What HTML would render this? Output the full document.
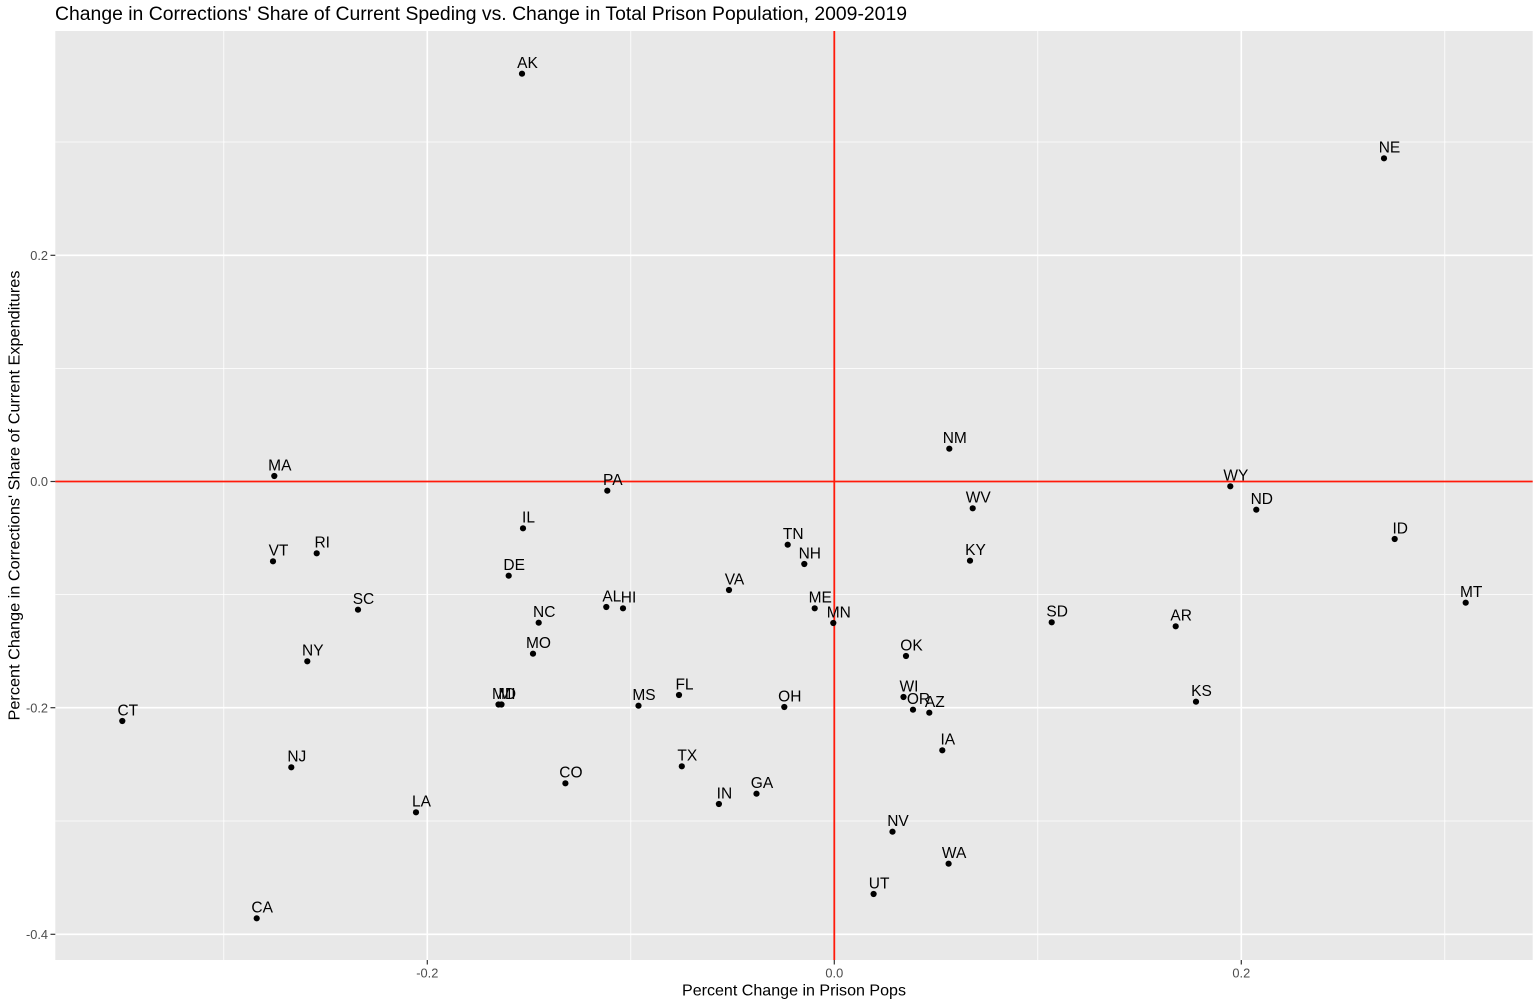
<!DOCTYPE html>
<html>
<head>
<meta charset="utf-8">
<style>
html,body{margin:0;padding:0;background:#ffffff;}
svg{display:block;}
text{font-family:"Liberation Sans",Arial,sans-serif;}
</style>
</head>
<body>
<svg width="1538" height="1003" viewBox="0 0 1538 1003" xmlns="http://www.w3.org/2000/svg">
<rect x="0" y="0" width="1538" height="1003" fill="#ffffff"/>
<!-- title -->
<text x="55" y="20" font-size="19" fill="#000" textLength="852" lengthAdjust="spacingAndGlyphs">Change in Corrections' Share of Current Speding vs. Change in Total Prison Population, 2009-2019</text>
<!-- panel -->
<rect x="55.3" y="31" width="1477.4" height="929" fill="#e8e8e8"/>
<!-- minor grid -->
<g stroke="#ffffff" stroke-width="0.8">
<line x1="223.8" y1="31" x2="223.8" y2="960"/>
<line x1="630.8" y1="31" x2="630.8" y2="960"/>
<line x1="1037.8" y1="31" x2="1037.8" y2="960"/>
<line x1="1444.8" y1="31" x2="1444.8" y2="960"/>
<line x1="55.3" y1="142" x2="1532.7" y2="142"/>
<line x1="55.3" y1="368.4" x2="1532.7" y2="368.4"/>
<line x1="55.3" y1="594.6" x2="1532.7" y2="594.6"/>
<line x1="55.3" y1="821" x2="1532.7" y2="821"/>
</g>
<!-- major grid -->
<g stroke="#ffffff" stroke-width="1.6">
<line x1="427.3" y1="31" x2="427.3" y2="960"/>
<line x1="834.3" y1="31" x2="834.3" y2="960"/>
<line x1="1241.3" y1="31" x2="1241.3" y2="960"/>
<line x1="55.3" y1="255.3" x2="1532.7" y2="255.3"/>
<line x1="55.3" y1="481.5" x2="1532.7" y2="481.5"/>
<line x1="55.3" y1="707.7" x2="1532.7" y2="707.7"/>
<line x1="55.3" y1="934.3" x2="1532.7" y2="934.3"/>
</g>
<!-- red reference lines -->
<g stroke="#ff1a0a" stroke-width="1.8">
<line x1="55.3" y1="481.5" x2="1532.7" y2="481.5"/>
<line x1="834.3" y1="31" x2="834.3" y2="960"/>
</g>
<!-- axis ticks -->
<g stroke="#333333" stroke-width="1.2">
<line x1="50.5" y1="255.3" x2="55.3" y2="255.3"/>
<line x1="50.5" y1="481.5" x2="55.3" y2="481.5"/>
<line x1="50.5" y1="707.7" x2="55.3" y2="707.7"/>
<line x1="50.5" y1="934.3" x2="55.3" y2="934.3"/>
<line x1="427.3" y1="960" x2="427.3" y2="964.5"/>
<line x1="834.3" y1="960" x2="834.3" y2="964.5"/>
<line x1="1241.3" y1="960" x2="1241.3" y2="964.5"/>
</g>
<!-- tick labels -->
<g font-size="12.8" fill="#4d4d4d">
<text x="48" y="259.9" text-anchor="end">0.2</text>
<text x="48" y="486.1" text-anchor="end">0.0</text>
<text x="48" y="712.3" text-anchor="end">-0.2</text>
<text x="48" y="938.9" text-anchor="end">-0.4</text>
<text x="427.3" y="977.7" text-anchor="middle">-0.2</text>
<text x="834.3" y="977.7" text-anchor="middle">0.0</text>
<text x="1241.3" y="977.7" text-anchor="middle">0.2</text>
</g>
<!-- axis titles -->
<text x="794" y="995.5" font-size="16" fill="#000" text-anchor="middle" textLength="224" lengthAdjust="spacingAndGlyphs">Percent Change in Prison Pops</text>
<text transform="translate(19.3,495.5) rotate(-90)" x="0" y="0" font-size="16" fill="#000" text-anchor="middle" textLength="450" lengthAdjust="spacingAndGlyphs">Percent Change in Corrections' Share of Current Expenditures</text>
<!-- points -->
<g fill="#000">
<circle cx="522" cy="73.7" r="3.1"/>
<circle cx="1384" cy="158.3" r="3.1"/>
<circle cx="949.3" cy="448.7" r="3.1"/>
<circle cx="274.3" cy="476" r="3.1"/>
<circle cx="607.3" cy="490.7" r="3.1"/>
<circle cx="1230.3" cy="486.3" r="3.1"/>
<circle cx="1256.3" cy="509.7" r="3.1"/>
<circle cx="972.7" cy="508.3" r="3.1"/>
<circle cx="523" cy="528.3" r="3.1"/>
<circle cx="1394.7" cy="539" r="3.1"/>
<circle cx="787.7" cy="544.7" r="3.1"/>
<circle cx="316.7" cy="553.3" r="3.1"/>
<circle cx="273" cy="561.3" r="3.1"/>
<circle cx="804.3" cy="564" r="3.1"/>
<circle cx="970" cy="560.7" r="3.1"/>
<circle cx="508.7" cy="575.7" r="3.1"/>
<circle cx="729" cy="590" r="3.1"/>
<circle cx="1465.7" cy="602.7" r="3.1"/>
<circle cx="606.3" cy="607" r="3.1"/>
<circle cx="623" cy="608.3" r="3.1"/>
<circle cx="814.7" cy="608.3" r="3.1"/>
<circle cx="358" cy="609.7" r="3.1"/>
<circle cx="833.3" cy="623" r="3.1"/>
<circle cx="1051.7" cy="622.3" r="3.1"/>
<circle cx="538.7" cy="622.7" r="3.1"/>
<circle cx="1175.7" cy="626.3" r="3.1"/>
<circle cx="533" cy="653.7" r="3.1"/>
<circle cx="906" cy="656" r="3.1"/>
<circle cx="307.3" cy="661.3" r="3.1"/>
<circle cx="1196" cy="701.7" r="3.1"/>
<circle cx="498.5" cy="704.5" r="3.1"/>
<circle cx="501.5" cy="704.5" r="3.1"/>
<circle cx="638.5" cy="705.7" r="3.1"/>
<circle cx="679" cy="695" r="3.1"/>
<circle cx="784.3" cy="707" r="3.1"/>
<circle cx="903.5" cy="697" r="3.1"/>
<circle cx="913" cy="709.7" r="3.1"/>
<circle cx="929.3" cy="712.7" r="3.1"/>
<circle cx="942.3" cy="750.3" r="3.1"/>
<circle cx="122.3" cy="721" r="3.1"/>
<circle cx="291.3" cy="767.3" r="3.1"/>
<circle cx="681.8" cy="766.3" r="3.1"/>
<circle cx="565.4" cy="783.3" r="3.1"/>
<circle cx="718.9" cy="804" r="3.1"/>
<circle cx="756.5" cy="793.7" r="3.1"/>
<circle cx="416" cy="812.3" r="3.1"/>
<circle cx="892.5" cy="831.7" r="3.1"/>
<circle cx="948.6" cy="863.7" r="3.1"/>
<circle cx="873.6" cy="894" r="3.1"/>
<circle cx="256.7" cy="918.3" r="3.1"/>
</g>
<!-- labels -->
<g font-size="15.5" fill="#000" text-anchor="middle">
<text x="527.5" y="68">AK</text>
<text x="1389.5" y="152.6">NE</text>
<text x="954.8" y="443">NM</text>
<text x="279.8" y="470.3">MA</text>
<text x="612.8" y="485">PA</text>
<text x="1235.8" y="480.6">WY</text>
<text x="1261.8" y="504">ND</text>
<text x="978.2" y="502.6">WV</text>
<text x="528.5" y="522.6">IL</text>
<text x="1400.2" y="533.3">ID</text>
<text x="793.2" y="539">TN</text>
<text x="322.2" y="547.6">RI</text>
<text x="278.5" y="555.6">VT</text>
<text x="809.8" y="558.3">NH</text>
<text x="975.5" y="555">KY</text>
<text x="514.2" y="570">DE</text>
<text x="734.5" y="584.3">VA</text>
<text x="1471.2" y="597">MT</text>
<text x="611.8" y="601.3">AL</text>
<text x="628.5" y="602.6">HI</text>
<text x="820.2" y="602.6">ME</text>
<text x="363.5" y="604">SC</text>
<text x="838.8" y="617.3">MN</text>
<text x="1057.2" y="616.6">SD</text>
<text x="544.2" y="617">NC</text>
<text x="1181.2" y="620.6">AR</text>
<text x="538.5" y="648">MO</text>
<text x="911.5" y="650.3">OK</text>
<text x="312.8" y="655.6">NY</text>
<text x="1201.5" y="696">KS</text>
<text x="504" y="698.8">MD</text>
<text x="507" y="698.8">MI</text>
<text x="644" y="700">MS</text>
<text x="684.5" y="689.3">FL</text>
<text x="789.8" y="701.3">OH</text>
<text x="909" y="691.3">WI</text>
<text x="918.5" y="704">OR</text>
<text x="934.8" y="707">AZ</text>
<text x="947.8" y="744.6">IA</text>
<text x="127.8" y="715.3">CT</text>
<text x="296.8" y="761.6">NJ</text>
<text x="687.3" y="760.6">TX</text>
<text x="570.9" y="777.6">CO</text>
<text x="724.4" y="798.3">IN</text>
<text x="762" y="788">GA</text>
<text x="421.5" y="806.6">LA</text>
<text x="898" y="826">NV</text>
<text x="954.1" y="858">WA</text>
<text x="879.1" y="888.3">UT</text>
<text x="262.2" y="912.6">CA</text>
</g>
</svg>
</body>
</html>
